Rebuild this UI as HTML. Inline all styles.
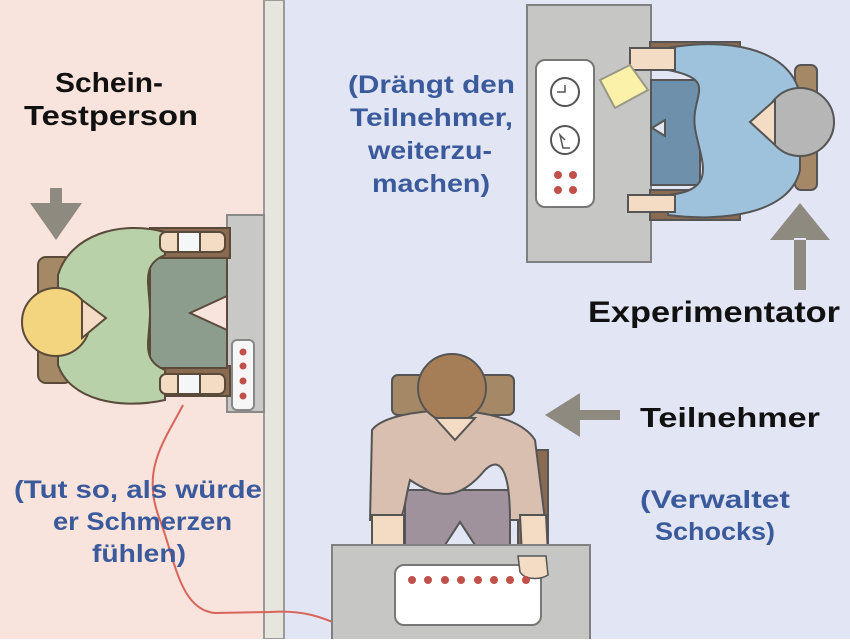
<!DOCTYPE html>
<html><head><meta charset="utf-8"><style>
html,body{margin:0;padding:0;}
body{width:850px;height:639px;overflow:hidden;}
svg text{font-family:"Liberation Sans",sans-serif;font-weight:bold;}
</style></head><body>
<svg width="850" height="639" viewBox="0 0 850 639" xmlns="http://www.w3.org/2000/svg">
<rect x="0" y="0" width="265" height="639" fill="#f8e4dc"/>
<rect x="283" y="0" width="567" height="639" fill="#e2e6f4"/>
<rect x="264" y="0" width="20" height="639" fill="#e6e6de" stroke="#9a9a96" stroke-width="2"/>

<!-- left: Schein-Testperson -->
<g stroke="#5a4a3a" stroke-width="2">
<rect x="227" y="215" width="37" height="197" fill="#c8c8c6" stroke="#8a8a88"/>
<rect x="38" y="257" width="34" height="126" rx="8" fill="#a58866"/>
<rect x="150" y="228" width="80" height="30" fill="#8a6a50"/>
<rect x="150" y="366" width="80" height="30" fill="#8a6a50"/>
<path d="M150 258 L227 258 L227 368 L150 368 Z" fill="#8d9d8d"/>
<path d="M190 313 L227 296 L227 330 Z" fill="#f8e4dc"/>
<path d="M165 232 C120 220 70 235 58 275 L58 365 C70 400 120 410 165 400 L165 370 C140 360 150 340 150 313 C150 285 140 265 165 255 Z" fill="#b9d1a8"/>
<rect x="160" y="232" width="65" height="20" rx="6" fill="#f4dcc4"/>
<rect x="178" y="232" width="22" height="20" fill="#f4f6f8"/>
<rect x="160" y="374" width="65" height="20" rx="6" fill="#f4dcc4"/>
<rect x="178" y="374" width="22" height="20" fill="#f4f6f8"/>
<circle cx="56" cy="322" r="34" fill="#f2d57e"/>
<path d="M82 300 L106 318 L82 338 Z" fill="#f4dcc4"/>
<rect x="232" y="340" width="22" height="70" rx="5" fill="#f6f6f6" stroke="#888"/>
</g>
<g fill="#c0504a"><circle cx="243" cy="352" r="3.5"/><circle cx="243" cy="366" r="3.5"/><circle cx="243" cy="381" r="3.5"/><circle cx="243" cy="396" r="3.5"/></g>
<path d="M30 203 L82 203 L56 240 Z M50 188 L62 188 L62 205 L50 205 Z" fill="#8f8a80"/>

<!-- wire -->
<path d="M183 405 C165 440 140 470 160 520 C175 560 180 610 215 613 L270 612 C300 610 320 615 350 630 C380 645 420 640 430 625" fill="none" stroke="#d8645a" stroke-width="2"/>

<!-- right top: Experimentator -->
<g stroke="#555" stroke-width="2">
<rect x="527" y="5" width="124" height="257" fill="#c6c6c4" stroke="#808080"/>
<rect x="650" y="42" width="90" height="25" fill="#8a6a50"/>
<rect x="650" y="190" width="90" height="30" fill="#8a6a50"/>
<rect x="795" y="65" width="22" height="125" rx="6" fill="#a58866"/>
<path d="M651 80 L700 80 L700 185 L651 185 Z" fill="#6e90aa"/>
<path d="M652 128 L665 120 L665 136 Z" fill="#e2e6f4"/>
<path d="M668 48 C720 38 790 45 800 95 L800 170 C790 215 720 222 668 215 L668 195 C720 190 700 160 695 128 C690 95 720 80 668 70 Z" fill="#9ec2dc"/>
<path d="M630 48 L675 48 L675 70 L630 70 Z" fill="#f4dcc4"/>
<path d="M628 195 L675 195 L675 212 L628 212 Z" fill="#f4dcc4"/>
<path d="M600 80 L630 65 L648 90 L615 108 Z" fill="#fbf1a8" stroke="#998"/>
<circle cx="800" cy="122" r="34" fill="#b6b6b6"/>
<path d="M775 100 L750 122 L775 145 Z" fill="#f4dcc4"/>
<rect x="536" y="60" width="58" height="147" rx="9" fill="#fff" stroke="#777"/>
<circle cx="565" cy="92" r="14" fill="#fff" stroke="#555"/>
<circle cx="565" cy="140" r="14" fill="#fff" stroke="#555"/>
</g>
<path d="M557 92 L565 92 L565 85 M565 140 L560 135 L563 148 L570 148" fill="none" stroke="#555" stroke-width="1.5"/>
<g fill="#c0504a"><circle cx="558" cy="175" r="4"/><circle cx="573" cy="175" r="4"/><circle cx="558" cy="190" r="4"/><circle cx="573" cy="190" r="4"/></g>
<path d="M770 240 L830 240 L800 203 Z M794 238 L806 238 L806 290 L794 290 Z" fill="#8f8a80"/>

<!-- Teilnehmer -->
<g stroke="#555" stroke-width="2">
<rect x="392" y="375" width="122" height="40" rx="6" fill="#a58866"/>
<rect x="372" y="470" width="30" height="80" fill="#8a6a50"/>
<rect x="518" y="450" width="30" height="100" fill="#8a6a50"/>
<path d="M405 490 L510 490 L510 548 L405 548 Z" fill="#a0929c"/>
<path d="M445 545 L460 522 L475 545 Z" fill="#e2e6f4"/>
<path d="M372 430 C390 405 510 400 535 440 L545 520 L510 520 C510 470 500 455 485 470 C460 500 440 500 410 480 C405 500 405 510 400 520 L370 520 Z" fill="#d8bfb0"/>
<rect x="372" y="515" width="32" height="35" fill="#f4dcc4"/>
<path d="M520 515 L546 515 L548 555 C540 565 528 565 522 555 Z" fill="#f4dcc4"/>
<circle cx="452" cy="388" r="34" fill="#a57e57"/>
<path d="M435 418 L455 440 L475 418 Z" fill="#f4dcc4"/>
<rect x="332" y="545" width="258" height="100" fill="#c6c6c4" stroke="#808080"/>
<rect x="395" y="565" width="146" height="60" rx="9" fill="#fff" stroke="#777"/>
</g>
<path d="M518 556 L546 556 L548 575 C540 580 525 580 520 572 Z" fill="#f4dcc4" stroke="#555" stroke-width="1.5"/>
<g fill="#c0504a"><circle cx="412" cy="580" r="4"/><circle cx="428" cy="580" r="4"/><circle cx="445" cy="580" r="4"/><circle cx="461" cy="580" r="4"/><circle cx="478" cy="580" r="4"/><circle cx="494" cy="580" r="4"/><circle cx="510" cy="580" r="4"/><circle cx="526" cy="580" r="4"/></g>
<path d="M545 415 L580 393 L580 437 Z M578 410 L620 410 L620 420 L578 420 Z" fill="#8f8a80"/>

<!-- texts -->
<g font-size="28" fill="#111" lengthAdjust="spacingAndGlyphs">
<text x="55" y="92" textLength="108" lengthAdjust="spacingAndGlyphs">Schein-</text>
<text x="24" y="125" textLength="174" lengthAdjust="spacingAndGlyphs">Testperson</text>
<text x="588" y="322" font-size="30" textLength="252" lengthAdjust="spacingAndGlyphs">Experimentator</text>
<text x="640" y="427" textLength="180" lengthAdjust="spacingAndGlyphs">Teilnehmer</text>
</g>
<g font-size="25" fill="#3a5a9c">
<text x="348" y="93" textLength="167" lengthAdjust="spacingAndGlyphs">(Drängt den</text>
<text x="350" y="126" textLength="163" lengthAdjust="spacingAndGlyphs">Teilnehmer,</text>
<text x="368" y="159" textLength="124" lengthAdjust="spacingAndGlyphs">weiterzu-</text>
<text x="372" y="192" textLength="118" lengthAdjust="spacingAndGlyphs">machen)</text>
<text x="14" y="498" textLength="248" lengthAdjust="spacingAndGlyphs">(Tut so, als würde</text>
<text x="53" y="530" textLength="179" lengthAdjust="spacingAndGlyphs">er Schmerzen</text>
<text x="92" y="562" textLength="94" lengthAdjust="spacingAndGlyphs">fühlen)</text>
<text x="640" y="508" textLength="150" lengthAdjust="spacingAndGlyphs">(Verwaltet</text>
<text x="655" y="540" textLength="120" lengthAdjust="spacingAndGlyphs">Schocks)</text>
</g>
</svg>
</body></html>
